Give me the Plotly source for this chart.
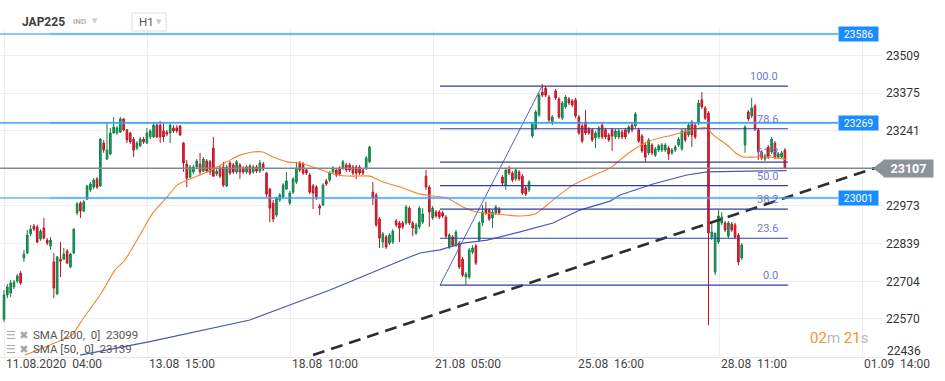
import plotly.graph_objects as go

# ---------------- data ----------------
open_ = [22569, 22655, 22662, 22684, 22705, 22733, 22787, 22805, 22873, 22901,
         22898, 22855, 22894, 22851, 22830, 22773, 22659, 22783, 22783, 22812,
         22755, 22805, 22948, 22983, 22955, 22997, 23030, 23040, 23069, 23044,
         23197, 23140, 23158, 23233, 23233, 23236, 23283, 23244, 23233, 23211,
         23179, 23187, 23211, 23197, 23219, 23219, 23261, 23261, 23240, 23236,
         23233, 23251, 23251, 23258, 23197, 23122, 23076, 23094, 23112, 23122,
         23097, 23133, 23130, 23179, 23087, 23108, 23112, 23044, 23126, 23119,
         23094, 23119, 23108, 23094, 23115, 23094, 23112, 23097, 23122, 23090,
         23033, 22983, 22940, 22994, 23005, 23033, 22983, 23022, 23058, 23126,
         23122, 23101, 23083, 23044, 23040, 22972, 22976, 23062, 23065, 23094,
         23101, 23108, 23108, 23119, 23119, 23112, 23112, 23112, 23101, 23108,
         23130, 23022, 23012, 22926, 22844, 22862, 22840, 22844, 22919, 22912,
         22912, 22912, 22965, 22912, 22876, 22898, 22915, 23079, 23040, 22930,
         22951, 22951, 22948, 22933, 22826, 22862, 22833, 22840, 22783, 22719,
         22719, 22808, 22830, 22851, 22912, 22962, 22958, 22930, 22948, 22962,
         23076, 23047, 23108, 23090, 23069, 23094, 23079, 23037, 23030, 23222,
         23251, 23297, 23379, 23393, 23361, 23272, 23383, 23354, 23286, 23326,
         23354, 23347, 23351, 23290, 23258, 23272, 23247, 23244, 23215, 23219,
         23261, 23244, 23226, 23244, 23219, 23219, 23236, 23244, 23236, 23261,
         23258, 23244, 23222, 23190, 23162, 23190, 23154, 23172, 23172, 23172,
         23179, 23162, 23172, 23190, 23176, 23240, 23226, 23272, 23261, 23269,
         23351, 23322, 23304, 22862, 22737, 22844, 22912, 22912, 22865, 22908,
         22905, 22869, 22787, 23190, 23308, 23294, 23329, 23244, 23165, 23140,
         23183, 23165, 23197, 23147, 23147, 23172]
high = [22673, 22694, 22709, 22709, 22730, 22741, 22816, 22887, 22905, 22908,
        22905, 22890, 22930, 22858, 22862, 22805, 22794, 22844, 22823, 22819,
        22805, 22892, 22987, 22990, 22994, 23047, 23058, 23072, 23076, 23215,
        23208, 23269, 23251, 23290, 23258, 23290, 23286, 23247, 23236, 23219,
        23204, 23219, 23219, 23251, 23247, 23272, 23269, 23276, 23269, 23244,
        23265, 23261, 23261, 23261, 23201, 23137, 23119, 23119, 23140, 23162,
        23147, 23140, 23137, 23219, 23104, 23115, 23130, 23119, 23133, 23126,
        23137, 23126, 23115, 23119, 23122, 23119, 23119, 23137, 23130, 23094,
        23037, 22994, 23005, 23019, 23054, 23094, 23026, 23076, 23130, 23133,
        23130, 23108, 23090, 23051, 23047, 22980, 23054, 23069, 23097, 23115,
        23108, 23115, 23137, 23126, 23126, 23119, 23119, 23119, 23108, 23151,
        23187, 23058, 23019, 22933, 22880, 22869, 22876, 22890, 22926, 22919,
        22919, 22976, 22972, 22919, 22912, 22972, 22965, 23101, 23047, 22972,
        22958, 22958, 22955, 22940, 22876, 22869, 22887, 22848, 22791, 22737,
        22823, 22833, 22837, 22919, 22976, 22987, 22965, 22958, 22976, 22969,
        23083, 23108, 23115, 23097, 23108, 23101, 23087, 23044, 23065, 23272,
        23315, 23376, 23408, 23401, 23368, 23297, 23390, 23361, 23347, 23368,
        23361, 23354, 23358, 23297, 23265, 23315, 23254, 23251, 23240, 23258,
        23272, 23251, 23233, 23251, 23247, 23247, 23244, 23251, 23261, 23269,
        23308, 23251, 23229, 23197, 23215, 23197, 23183, 23194, 23197, 23197,
        23187, 23179, 23190, 23219, 23247, 23247, 23269, 23279, 23269, 23351,
        23379, 23329, 23311, 22915, 22876, 22958, 22951, 22919, 22919, 22915,
        22912, 22876, 22840, 23261, 23315, 23358, 23336, 23251, 23172, 23158,
        23190, 23219, 23204, 23165, 23169, 23179]
low = [22559, 22644, 22648, 22676, 22698, 22691, 22773, 22801, 22865, 22883,
       22840, 22848, 22855, 22833, 22816, 22644, 22655, 22719, 22780, 22766,
       22751, 22801, 22940, 22930, 22951, 22994, 23022, 23033, 23033, 23040,
       23162, 23137, 23154, 23229, 23226, 23233, 23240, 23197, 23194, 23147,
       23172, 23183, 23194, 23194, 23211, 23215, 23215, 23197, 23201, 23222,
       23197, 23233, 23233, 23222, 23094, 23040, 23072, 23087, 23104, 23083,
       23094, 23090, 23083, 23076, 23079, 23072, 23040, 23040, 23083, 23087,
       23087, 23069, 23087, 23087, 23083, 23087, 23090, 23090, 23097, 23005,
       22915, 22915, 22933, 22987, 22997, 23030, 22976, 23015, 23051, 23094,
       23083, 23083, 23015, 22962, 22994, 22940, 22972, 23044, 23058, 23087,
       23076, 23079, 23101, 23094, 23094, 23083, 23069, 23083, 23083, 23101,
       23126, 22976, 22898, 22823, 22823, 22819, 22833, 22837, 22898, 22844,
       22890, 22905, 22905, 22865, 22869, 22890, 22908, 23030, 22898, 22923,
       22930, 22926, 22930, 22858, 22819, 22826, 22826, 22748, 22719, 22691,
       22712, 22801, 22762, 22844, 22901, 22940, 22919, 22894, 22940, 22940,
       23047, 23030, 23083, 23058, 23062, 23062, 23012, 23008, 23022, 23215,
       23244, 23290, 23361, 23361, 23272, 23261, 23351, 23283, 23279, 23319,
       23333, 23326, 23286, 23226, 23197, 23226, 23226, 23201, 23179, 23211,
       23211, 23211, 23201, 23169, 23211, 23211, 23211, 23211, 23229, 23236,
       23251, 23197, 23162, 23130, 23154, 23154, 23147, 23165, 23165, 23165,
       23137, 23154, 23165, 23183, 23169, 23201, 23219, 23183, 23211, 23261,
       23319, 23279, 22548, 22851, 22726, 22837, 22905, 22880, 22858, 22880,
       22855, 22762, 22780, 23162, 23276, 23286, 23240, 23137, 23137, 23133,
       23140, 23158, 23140, 23140, 23140, 23104]
close = [22655, 22684, 22698, 22701, 22723, 22698, 22801, 22869, 22890, 22890,
         22844, 22883, 22858, 22840, 22851, 22680, 22791, 22776, 22801, 22769,
         22801, 22890, 22980, 22955, 22987, 23044, 23051, 23065, 23040, 23211,
         23172, 23172, 23233, 23254, 23251, 23283, 23244, 23208, 23201, 23172,
         23197, 23211, 23201, 23233, 23240, 23261, 23219, 23219, 23219, 23229,
         23261, 23240, 23240, 23226, 23126, 23072, 23112, 23112, 23133, 23094,
         23140, 23097, 23094, 23079, 23097, 23079, 23047, 23112, 23090, 23094,
         23130, 23094, 23094, 23112, 23090, 23112, 23097, 23126, 23104, 23015,
         22965, 22926, 23001, 23012, 23047, 23062, 23019, 23069, 23108, 23101,
         23090, 23090, 23022, 23019, 23005, 22965, 23047, 23051, 23090, 23108,
         23083, 23087, 23130, 23101, 23101, 23090, 23090, 23090, 23090, 23144,
         23183, 23001, 22905, 22858, 22873, 22826, 22869, 22883, 22905, 22894,
         22898, 22969, 22912, 22894, 22905, 22965, 22944, 23040, 22951, 22965,
         22937, 22933, 22937, 22865, 22869, 22833, 22880, 22755, 22726, 22730,
         22816, 22823, 22769, 22912, 22951, 22948, 22926, 22951, 22969, 22948,
         23054, 23101, 23090, 23065, 23101, 23069, 23019, 23015, 23058, 23265,
         23308, 23368, 23368, 23368, 23279, 23290, 23358, 23290, 23340, 23361,
         23340, 23333, 23294, 23233, 23204, 23233, 23233, 23208, 23233, 23251,
         23219, 23219, 23208, 23222, 23240, 23240, 23219, 23219, 23254, 23244,
         23301, 23204, 23169, 23147, 23208, 23162, 23176, 23187, 23190, 23190,
         23158, 23172, 23183, 23211, 23240, 23208, 23261, 23226, 23219, 23340,
         23326, 23286, 22876, 22880, 22876, 22937, 22933, 22887, 22912, 22887,
         22862, 22773, 22833, 23254, 23283, 23322, 23247, 23165, 23144, 23151,
         23147, 23211, 23147, 23158, 23162, 23107]
slot = list(range(len(open_)))          # hourly candle index

sma50_slot = [6.3, 13.8, 20.5, 23.5, 28.9, 33.4, 36.4, 40.9, 44.8, 49.1, 52.1, 55.1,
              59.0, 62.9, 67.1, 71.0, 74.9, 77.9, 81.0, 85.2, 89.1, 93.0, 97.2, 100.2,
              105.0, 110.1, 114.1, 119.2, 125.2, 133.3, 138.1, 142.3, 148.4, 155.3,
              159.8, 163.4, 166.4, 171.2, 176.3, 182.4, 185.4, 189.3, 193.5, 197.4,
              201.3, 205.5, 209.4, 211.6, 213.4, 217.6, 220.6, 222.4, 225.4, 230.5, 235.5]
sma50_val = [22441, 22477, 22513, 22566, 22655, 22744, 22780, 22869, 22948, 23005, 23047, 23065,
             23083, 23104, 23130, 23154, 23165, 23165, 23147, 23130, 23126, 23112, 23094, 23083,
             23079, 23079, 23058, 23040, 23015, 23001, 22969, 22951, 22944, 22937,
             22944, 22976, 23005, 23047, 23076, 23108, 23137, 23172, 23201, 23215,
             23226, 23240, 23251, 23251, 23226, 23190, 23158, 23147, 23147, 23147, 23139]
sma200_slot = [22.9, 43.9, 74.0, 98.1, 121.3, 125.2, 131.2, 138.1, 145.4, 155.3, 165.2,
               173.3, 182.4, 185.4, 195.3, 205.5, 211.6, 221.5, 235.5]
sma200_val = [22441, 22489, 22566, 22673, 22787, 22805, 22816, 22840, 22851, 22880, 22912,
              22958, 22990, 23012, 23051, 23083, 23094, 23097, 23099]

ytick_vals = [22436, 22570, 22704, 22839, 22973, 23241, 23375, 23509]
xtick_slots = [0, 43.04, 86.07, 129.11, 172.15, 215.18, 258.22]
xtick_text = ["11.08.2020\u00a0\u00a004:00", "13.08\u00a0\u00a015:00", "18.08\u00a0\u00a010:00",
              "21.08\u00a0\u00a005:00", "25.08\u00a0\u00a016:00", "28.08\u00a0\u00a011:00",
              "01.09\u00a0\u00a014:00"]

levels_blue = [23586, 23269, 23001]
last_price = 23107
fib_low, fib_high = 22690, 23400
fib_ratios = [0.0, 0.236, 0.382, 0.5, 0.618, 0.786, 1.0]
fib_labels = ["0.0", "23.6", "38.2", "50.0", "61.8", "78.6", "100.0"]
fib_span = [131.2, 235.9]
fib_diag_slots = [131.2, 161.9]
trend_slots = [93.0, 262.1]
trend_vals = [22441, 23108]
sma200_last, sma50_last = 23099, 23139

# ---------------- geometry of the frame ----------------
W, H = 945, 381
ML, MR, MT, MB = 0, 63, 28, 24
PW, PH = W - ML - MR, H - MT - MB
XR = [-1.204, 264.22]
YR = [22434.0, 23607.4]


def xp(px):
    return px / PW


def yp(py):
    return (MT + PH - py) / PH


def price_to_yp(v):
    return (v - YR[0]) / (YR[1] - YR[0])


fig = go.Figure()

fig.add_trace(go.Candlestick(
    x=slot, open=open_, high=high, low=low, close=close,
    increasing=dict(line=dict(color='#11804a', width=1), fillcolor='#1e9c5a'),
    decreasing=dict(line=dict(color='#bf1424', width=1), fillcolor='#e0283a'),
    whiskerwidth=0, hoverinfo='skip', showlegend=False))

fig.add_trace(go.Scatter(x=sma200_slot, y=sma200_val, mode='lines',
                         line=dict(color='#4b56b3', width=1.2), hoverinfo='skip'))
fig.add_trace(go.Scatter(x=sma50_slot, y=sma50_val, mode='lines',
                         line=dict(color='#f5842a', width=1.1, shape='spline', smoothing=0.6),
                         hoverinfo='skip'))

# fibonacci diagonal
fig.add_trace(go.Scatter(x=fib_diag_slots, y=[fib_low, fib_high], mode='lines',
                         line=dict(color='#5563c1', width=1), hoverinfo='skip'))
# dashed trend line
fig.add_trace(go.Scatter(x=trend_slots, y=trend_vals, mode='lines',
                         line=dict(color='#2d2d2d', width=2.6, dash='12px,7px'),
                         hoverinfo='skip'))

shapes = []
annotations = []

# fib levels
for r, lab in zip(fib_ratios, fib_labels):
    lv = fib_low + r * (fib_high - fib_low)
    shapes.append(dict(type='line', xref='x', yref='y', x0=fib_span[0], x1=fib_span[1],
                       y0=lv, y1=lv, line=dict(color='#2f3ca6', width=1.2), layer='above'))
    annotations.append(dict(x=233.5, y=lv, xref='x', yref='y', text=lab, showarrow=False,
                            xanchor='right', yanchor='bottom', yshift=1,
                            font=dict(size=11, color='#6f7ac4')))

# blue horizontal levels
for lv in levels_blue:
    shapes.append(dict(type='line', xref='paper', yref='y', x0=xp(50), x1=xp(838), y0=lv, y1=lv,
                       line=dict(color='rgba(130,195,255,0.45)', width=2.6), layer='above'))
    shapes.append(dict(type='line', xref='paper', yref='y', x0=0, x1=xp(838), y0=lv, y1=lv,
                       line=dict(color='#1f8ef5', width=1.1), layer='above'))
    annotations.append(dict(x=xp(838), y=lv, xref='paper', yref='y', text=str(lv),
                            showarrow=False, xanchor='left', yanchor='middle',
                            bgcolor='#1a8cff', width=39, height=14, borderpad=0,
                            font=dict(size=10.5, color='white')))

# last price line and tag
shapes.append(dict(type='line', xref='paper', yref='y', x0=0, x1=xp(873), y0=last_price,
                   y1=last_price, line=dict(color='#7f8a8f', width=1.5), layer='above'))
yl = price_to_yp(last_price)
hh = 8.5 / PH
shapes.append(dict(type='path', xref='paper', yref='paper',
                   path=f"M {xp(873)} {yl} L {xp(884)} {yl + hh} L {xp(884)} {yl - hh} Z",
                   fillcolor='#8b9499', line=dict(width=0), layer='above'))
annotations.append(dict(x=xp(883), y=last_price, xref='paper', yref='y', text='<b>23107</b>',
                        showarrow=False, xanchor='left', yanchor='middle', bgcolor='#8b9499',
                        width=49, height=17, borderpad=0, font=dict(size=12.5, color='white')))

# bottom y label, lifted above the date labels as in the original
annotations.append(dict(x=1, y=yp(351), xref='paper', yref='paper', text=str(ytick_vals[0]),
                        showarrow=False, xanchor='left', yanchor='middle', xshift=3,
                        font=dict(size=12, color='#333')))

# x tick labels (left aligned to the grid lines)
for s, t in zip(xtick_slots, xtick_text):
    annotations.append(dict(x=s, y=0, xref='x', yref='paper', text=t, showarrow=False,
                            xanchor='left', yanchor='top', xshift=0, yshift=2,
                            font=dict(size=12, color='#444')))

# header
annotations += [
    dict(x=xp(20), y=yp(22), xref='paper', yref='paper', text='<b>JAP225</b>', showarrow=False,
         xanchor='left', yanchor='middle', font=dict(size=12, color='#3d3d3d')),
    dict(x=xp(71), y=yp(22), xref='paper', yref='paper', text='<b>IND</b>', showarrow=False,
         xanchor='left', yanchor='middle', font=dict(size=8, color='#b3b3b3')),
    dict(x=xp(90), y=yp(21), xref='paper', yref='paper', text='\u25bc', showarrow=False,
         xanchor='left', yanchor='middle', font=dict(size=7, color='#cccccc', family='DejaVu Sans')),
    dict(x=xp(137), y=yp(22), xref='paper', yref='paper', text='H1', showarrow=False,
         xanchor='left', yanchor='middle', font=dict(size=11.5, color='#555')),
    dict(x=xp(154), y=yp(22), xref='paper', yref='paper', text='\u25bc', showarrow=False,
         xanchor='left', yanchor='middle', font=dict(size=7, color='#cccccc', family='DejaVu Sans')),
]
shapes.append(dict(type='rect', xref='paper', yref='paper', x0=xp(132), x1=xp(166),
                   y0=yp(31), y1=yp(13), line=dict(color='#dddddd', width=1)))

# SMA legend
for yy, txt in [(335, f"SMA [200,\u00a0 0]\u00a0 {sma200_last}"), (349, f"SMA [50,\u00a0 0]\u00a0 {sma50_last}")]:
    annotations.append(dict(x=xp(4), y=yp(yy), xref='paper', yref='paper', text='\u2630\u00a0\u2716',
                            showarrow=False, xanchor='left', yanchor='middle',
                            font=dict(size=11, color='#a6a6a6', family='DejaVu Sans')))
    annotations.append(dict(x=xp(31), y=yp(yy), xref='paper', yref='paper', text=txt,
                            showarrow=False, xanchor='left', yanchor='middle',
                            font=dict(size=11.5, color='#555')))

# countdown
annotations.append(dict(x=xp(870), y=yp(338), xref='paper', yref='paper',
                        text='<span style="color:#f7931e">02</span><span style="color:#b8b8b8">m</span> '
                             '<span style="color:#f7931e">21</span><span style="color:#b8b8b8">s</span>',
                        showarrow=False, xanchor='right', yanchor='middle', font=dict(size=15)))

fig.update_layout(
    width=W, height=H, margin=dict(l=ML, r=MR, t=MT, b=MB, pad=0),
    paper_bgcolor='white', plot_bgcolor='white', showlegend=False,
    font=dict(family='Roboto, Open Sans, sans-serif', color='#333'),
    shapes=shapes, annotations=annotations,
)
fig.update_xaxes(range=XR, tickvals=xtick_slots, showticklabels=False, showgrid=True,
                 gridcolor='#eeeeee', gridwidth=1, zeroline=False, rangeslider_visible=False,
                 showline=True, linecolor='#e8e8e8', ticks='')
fig.update_yaxes(side='right', range=YR, tickvals=ytick_vals,
                 ticktext=[''] + [str(v) for v in ytick_vals[1:]],
                 showgrid=True, gridcolor='#eeeeee', gridwidth=1, zeroline=False, ticks='',
                 ticklabelstandoff=3, tickfont=dict(size=12, color='#333'))

fig.write_html("out.html")
